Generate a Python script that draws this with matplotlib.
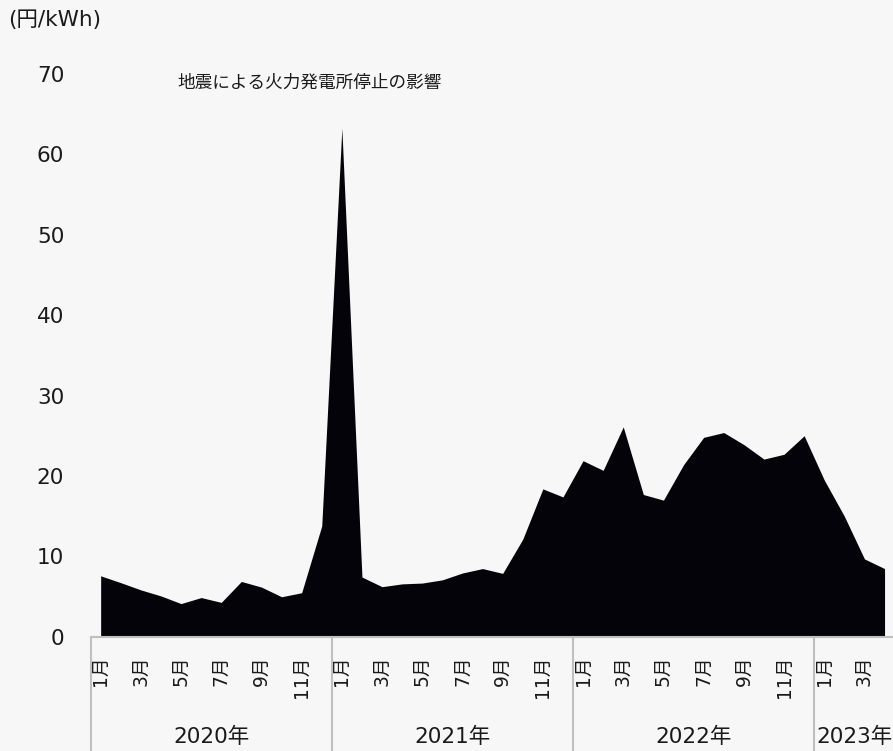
import matplotlib
matplotlib.use("Agg")
import matplotlib.pyplot as plt
import matplotlib.transforms as mtransforms
import numpy as np

plt.rcParams['font.family'] = ['DejaVu Sans', 'Noto Sans CJK JP']

# monthly price (円/kWh), Jan 2020 - Apr 2023
price_2020 = [7.6, 6.75, 5.85, 5.1, 4.15, 4.9, 4.3, 6.9, 6.2, 5.0, 5.5, 13.8]
price_2021 = [63.2, 7.45, 6.25, 6.6, 6.7, 7.1, 7.95, 8.5, 7.9, 12.15, 18.4, 17.4]
price_2022 = [21.9, 20.7, 26.1, 17.7, 17.0, 21.4, 24.8, 25.4, 23.9, 22.1, 22.7, 25.0]
price_2023 = [19.5, 15.0, 9.7, 8.5]

years = ['2020年', '2021年', '2022年', '2023年']
series = [price_2020, price_2021, price_2022, price_2023]
yticks = [0, 10, 20, 30, 40, 50, 60, 70]

values = np.concatenate(series)
x = np.arange(len(values))

bg = '#f7f7f7'
fill = '#05030a'
grid_gray = '#bfbfbf'
txt = '#1a1a1a'

W, H = 893, 751
fig = plt.figure(figsize=(W / 100, H / 100), dpi=100, facecolor=bg)
left, right, top, bottom = 90.6, 894.6, 73.5, 637
ax = fig.add_axes([left / W, 1 - bottom / H, (right - left) / W, (bottom - top) / H])
ax.set_facecolor(bg)

ax.fill_between(x, values, 0, color=fill, linewidth=0)
ax.set_xlim(-0.5, len(values) - 0.5)
ax.set_ylim(0, 70)

for s in ['top', 'right', 'left']:
    ax.spines[s].set_visible(False)
ax.spines['bottom'].set_color(grid_gray)
ax.spines['bottom'].set_linewidth(1.5)

ax.set_yticks(yticks)
ax.set_yticklabels([str(v) for v in yticks], fontsize=15.5, color=txt)
ax.tick_params(axis='y', length=0, pad=19)

# month labels on odd months
month_pos, month_lab = [], []
start = 0
for vals in series:
    for m in range(0, len(vals), 2):
        month_pos.append(start + m)
        month_lab.append(f'{m + 1}月')
    start += len(vals)
ax.set_xticks(month_pos)
ax.set_xticklabels(month_lab, rotation=90, fontsize=13.5, color=txt)
ax.tick_params(axis='x', length=0, pad=13)

# year groups with separators below the axis
trans = mtransforms.blended_transform_factory(ax.transData, ax.transAxes)
axh = bottom - top
ybot = -(H - bottom) / axh
edges = np.cumsum([0] + [len(v) for v in series]) - 0.5
for e in edges:
    ax.plot([e, e], [0, ybot], transform=trans, color=grid_gray, lw=1.5, clip_on=False)
for yr, a, b in zip(years, edges[:-1], edges[1:]):
    ax.text((a + b) / 2, -(737 - bottom) / axh, yr, transform=trans,
            ha='center', va='center', fontsize=15.5, color=txt)

ax.text(3.8, 68.9, '地震による火力発電所停止の影響', fontsize=12.7,
        family=['Noto Sans CJK JP', 'DejaVu Sans'], va='center', ha='left', color=txt)

fig.text(8 / W, 1 - 20 / H, '(円/kWh)', fontsize=15.5, va='center', ha='left', color=txt,
         family=['DejaVu Sans', 'Noto Sans CJK JP'])

fig.savefig('out.png', dpi=100, facecolor=bg)
